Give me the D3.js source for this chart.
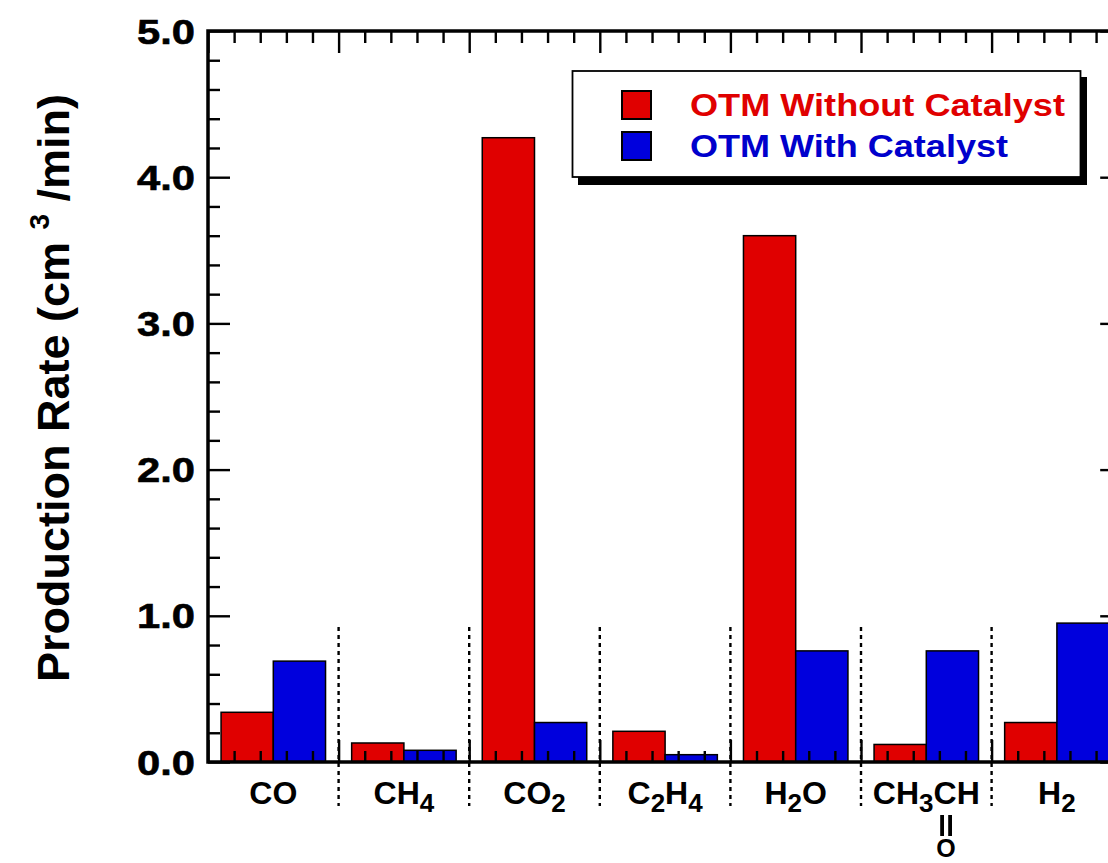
<!DOCTYPE html>
<html>
<head>
<meta charset="utf-8">
<script src="https://cdn.jsdelivr.net/npm/d3@7"></script>
<style>
  html, body { margin: 0; padding: 0; background: #fff; }
  svg { display: block; font-family: "Liberation Sans", Arial, Helvetica, sans-serif; font-weight: bold; }
</style>
</head>
<body>
<svg id="chart" width="1108" height="863"></svg>
<script>
// ---------- data ----------
const categories = ["CO", "CH4", "CO2", "C2H4", "H2O", "CH3CHO", "H2"];
// label pieces: [text, isSubscript]
const categoryLabels = [
  [["CO", 0]],
  [["CH", 0], ["4", 1]],
  [["CO", 0], ["2", 1]],
  [["C", 0], ["2", 1], ["H", 0], ["4", 1]],
  [["H", 0], ["2", 1], ["O", 0]],
  [["CH", 0], ["3", 1], ["CH", 0]],
  [["H", 0], ["2", 1]]
];
const seriesNames = ["OTM Without Catalyst", "OTM With Catalyst"];
const withoutCatalyst = [0.34, 0.13, 4.27, 0.21, 3.60, 0.12, 0.27];
const withCatalyst    = [0.69, 0.08, 0.27, 0.05, 0.76, 0.76, 0.95];
const yMajorTicks = [0, 1, 2, 3, 4, 5];
const yTickLabels = ["0.0", "1.0", "2.0", "3.0", "4.0", "5.0"];
const yTitle = "Production Rate (cm";
const yTitleSup = "3";
const yTitleEnd = "/min)";

// ---------- layout ----------
const colors = ["#e00000", "#0000dd"];
const textColors = ["#e00000", "#0000cc"];
const pLeft = 208, pRight = 1122.2, pTop = 31, pBottom = 762;

const svg = d3.select("#chart");

const x = d3.scaleBand().domain(categories).range([pLeft, pRight]).paddingInner(0).paddingOuter(0);
const xs = d3.scaleBand().domain([0, 1]).range([0, x.bandwidth()]).paddingInner(0).paddingOuter(0.25);
const xPos = d3.scaleLinear().domain([0, categories.length]).range([pLeft, pRight]);
const y = d3.scaleLinear().domain([0, 5]).range([pBottom, pTop]);

// ---------- bars ----------
const series = [withoutCatalyst, withCatalyst];
const barG = svg.append("g");
series.forEach((vals, si) => {
  barG.selectAll(null)
    .data(categories.map((c, i) => ({ c, v: vals[i] })))
    .join("rect")
    .attr("x", d => x(d.c) + xs(si))
    .attr("width", xs.bandwidth())
    .attr("y", d => y(d.v))
    .attr("height", d => y(0) - y(d.v))
    .attr("fill", colors[si])
    .attr("stroke", "#000")
    .attr("stroke-width", 1.5);
});

// ---------- dotted separators ----------
const sepVals = d3.range(1, categories.length);
svg.append("g").selectAll("line").data(sepVals).join("line")
  .attr("x1", d => xPos(d)).attr("x2", d => xPos(d))
  .attr("y1", 627).attr("y2", 806)
  .attr("stroke", "#000").attr("stroke-width", 2.4)
  .attr("stroke-dasharray", "4,4");

// ---------- ticks ----------
function styleAxis(g) {
  g.select(".domain").remove();
  g.selectAll("text").remove();
  g.selectAll("line").attr("stroke", "#000").attr("stroke-width", 2.4);
}
const yMinor = d3.range(0, 5.0001, 0.2).filter(v => Math.abs(v - Math.round(v)) > 1e-6);
const xMinor = d3.range(0, categories.length + 0.0001, 0.2).filter(v => Math.abs(v - Math.round(v)) > 1e-6);
const xMajor = d3.range(0, categories.length + 1);

svg.append("g").attr("transform", `translate(${pLeft},0)`)
  .call(d3.axisLeft(y).tickValues(yMajorTicks).tickSize(-22)).call(styleAxis);
svg.append("g").attr("transform", `translate(${pLeft},0)`)
  .call(d3.axisLeft(y).tickValues(yMinor).tickSize(-12)).call(styleAxis);
svg.append("g").attr("transform", `translate(${pRight},0)`)
  .call(d3.axisRight(y).tickValues(yMajorTicks).tickSize(-22)).call(styleAxis);
svg.append("g").attr("transform", `translate(${pRight},0)`)
  .call(d3.axisRight(y).tickValues(yMinor).tickSize(-12)).call(styleAxis);
svg.append("g").attr("transform", `translate(0,${pTop})`)
  .call(d3.axisTop(xPos).tickValues(xMajor).tickSize(-22)).call(styleAxis);
svg.append("g").attr("transform", `translate(0,${pTop})`)
  .call(d3.axisTop(xPos).tickValues(xMinor).tickSize(-12)).call(styleAxis);
svg.append("g").attr("transform", `translate(0,${pBottom})`)
  .call(d3.axisBottom(xPos).tickValues(xMajor).tickSize(-22)).call(styleAxis);
svg.append("g").attr("transform", `translate(0,${pBottom})`)
  .call(d3.axisBottom(xPos).tickValues(xMinor).tickSize(-11)).call(styleAxis);

// frame
svg.append("rect")
  .attr("x", pLeft).attr("y", pTop)
  .attr("width", pRight - pLeft).attr("height", pBottom - pTop)
  .attr("fill", "none").attr("stroke", "#000").attr("stroke-width", 3.5);

// ---------- y tick labels ----------
svg.append("g").selectAll("text").data(yMajorTicks).join("text")
  .attr("x", 195).attr("y", d => y(d) + 12.5)
  .attr("text-anchor", "end")
  .attr("font-size", 35)
  .attr("textLength", 58).attr("lengthAdjust", "spacingAndGlyphs")
  .attr("fill", "#000")
  .attr("stroke", "#000").attr("stroke-width", 0.6)
  .text((d, i) => yTickLabels[i]);

// ---------- x labels ----------
const xl = svg.append("g");
categories.forEach((c, i) => {
  const t = xl.append("text")
    .attr("x", x(c) + x.bandwidth() / 2)
    .attr("y", 804)
    .attr("text-anchor", "middle")
    .attr("font-size", 32)
    .attr("fill", "#000");
  categoryLabels[i].forEach((p, k) => {
    const prevSub = k > 0 && categoryLabels[i][k - 1][1];
    const ts = t.append("tspan").text(p[0]);
    if (p[1]) ts.attr("font-size", 26).attr("dy", 8);
    else if (prevSub) ts.attr("dy", -8);
  });
  if (c === "CH3CHO") {
    const node = t.node();
    const full = node.textContent;
    const idx = full.lastIndexOf("C");
    const s = node.getStartPositionOfChar(idx).x;
    const e = node.getEndPositionOfChar(idx).x;
    const cx = (s + e) / 2 + 1;
    xl.append("line").attr("x1", cx - 4).attr("x2", cx - 4).attr("y1", 815).attr("y2", 836)
      .attr("stroke", "#000").attr("stroke-width", 3.8);
    xl.append("line").attr("x1", cx + 4).attr("x2", cx + 4).attr("y1", 815).attr("y2", 836)
      .attr("stroke", "#000").attr("stroke-width", 3.8);
    xl.append("text").attr("x", cx).attr("y", 857).attr("text-anchor", "middle")
      .attr("font-size", 25).attr("fill", "#000").text("O");
  }
});

// ---------- y title ----------
const yt = svg.append("text")
  .attr("transform", "translate(69,388) rotate(-90)")
  .attr("text-anchor", "middle")
  .attr("font-size", 45)
  .attr("fill", "#000");
yt.append("tspan").text(yTitle + " ");
yt.append("tspan").text(yTitleSup).attr("font-size", 28).attr("dy", -20);
yt.append("tspan").text(" " + yTitleEnd).attr("dy", 20);

// ---------- legend ----------
const lg = svg.append("g");
lg.append("rect").attr("x", 578).attr("y", 77).attr("width", 509).attr("height", 108).attr("fill", "#000");
lg.append("rect").attr("x", 572.5).attr("y", 71).attr("width", 508).attr("height", 106)
  .attr("fill", "#fff").attr("stroke", "#000").attr("stroke-width", 1.8);
const legY = [105, 146];
const legLen = [375, 318];
seriesNames.forEach((n, i) => {
  lg.append("rect").attr("x", 622).attr("y", legY[i] - 14).attr("width", 29).attr("height", 28)
    .attr("fill", colors[i]).attr("stroke", "#000").attr("stroke-width", 2);
  lg.append("text").attr("x", 690).attr("y", legY[i] + 11)
    .attr("font-size", 31).attr("fill", textColors[i])
    .attr("textLength", legLen[i]).attr("lengthAdjust", "spacingAndGlyphs")
    .text(n);
});
</script>
</body>
</html>
